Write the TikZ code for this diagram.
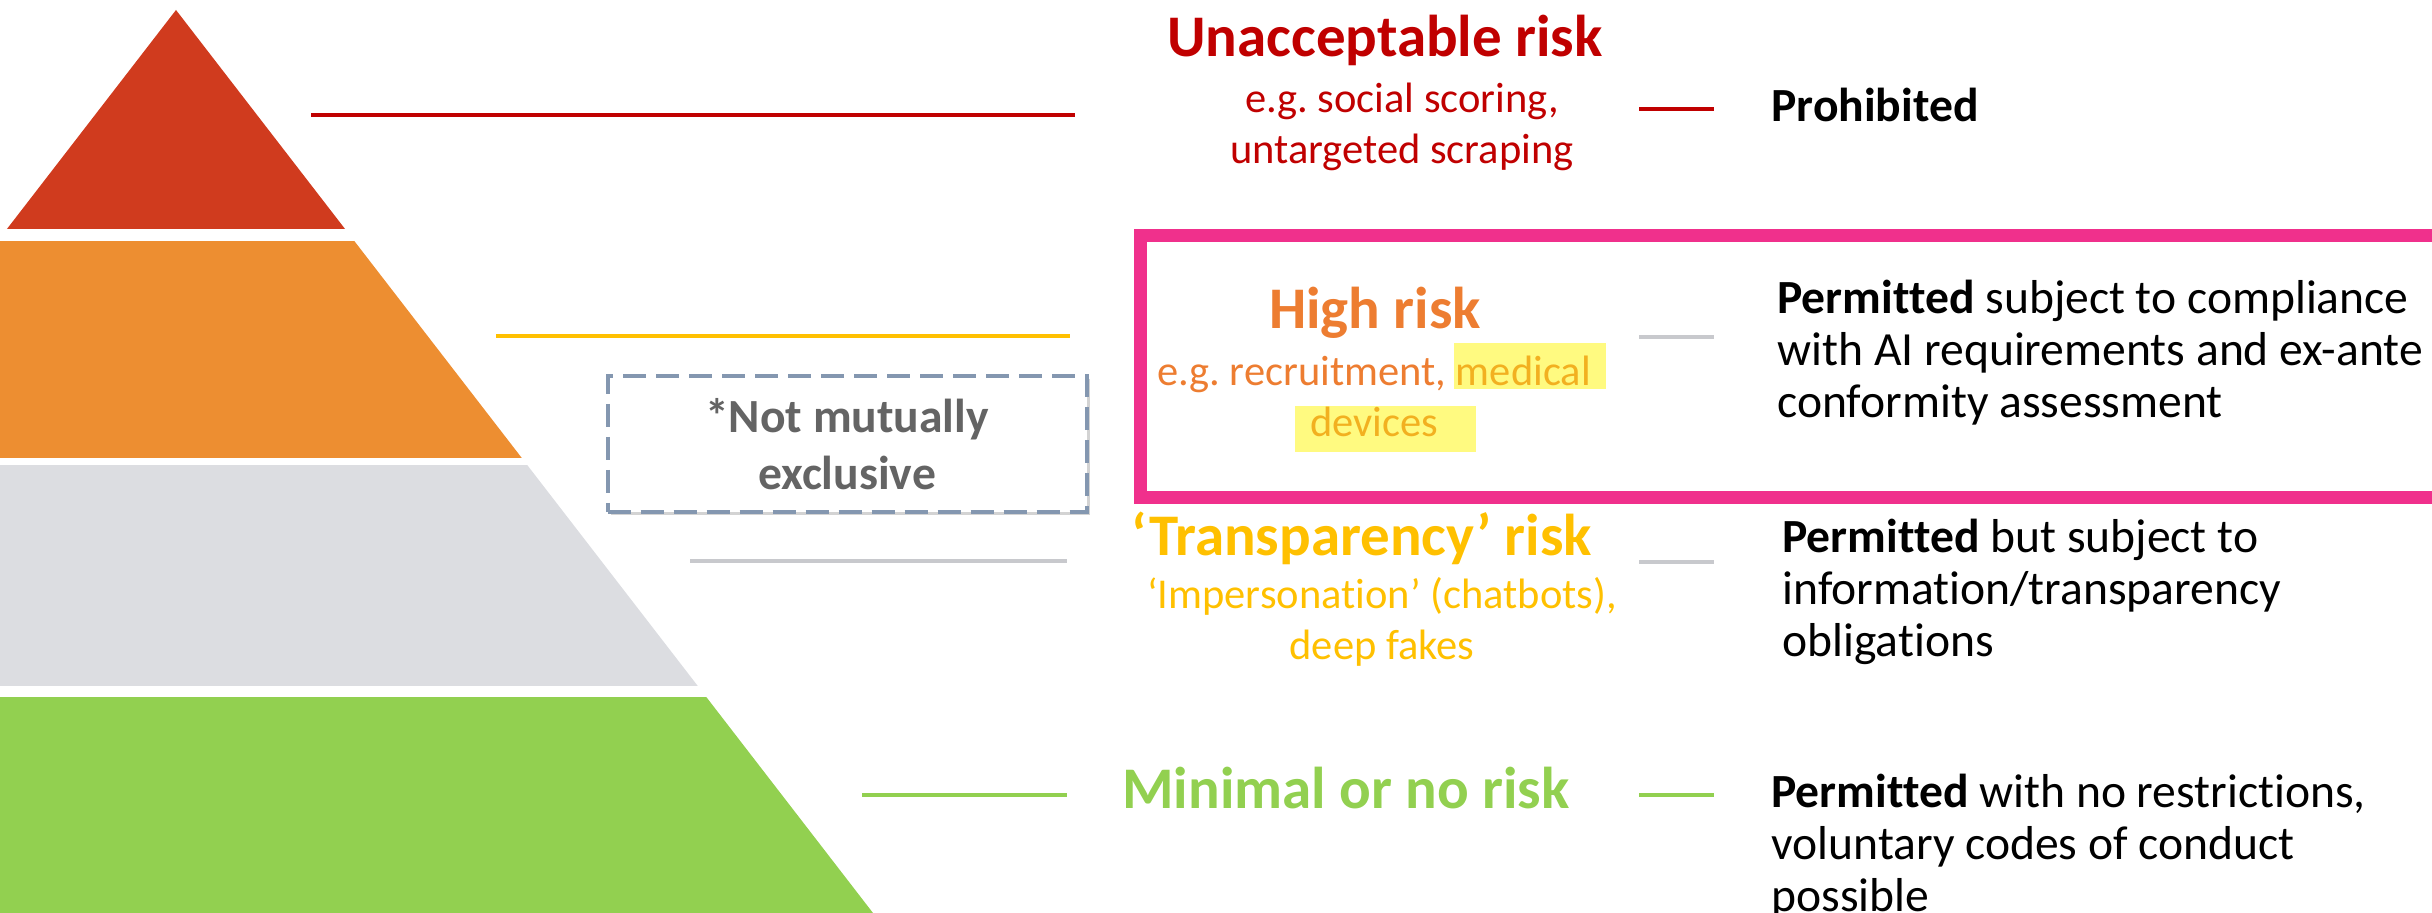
\documentclass[tikz,border=0pt]{standalone}
\usepackage{fontspec}
\setmainfont{Carlito}[Ligatures={TeX,NoCommon}]
\usepackage{tikz}
\usetikzlibrary{shadows}
\frenchspacing

\definecolor{pyrRed}{RGB}{208,59,30}
\definecolor{pyrOrange}{RGB}{237,142,49}
\definecolor{pyrGray}{RGB}{220,221,225}
\definecolor{pyrGreen}{RGB}{146,208,80}
\definecolor{riskRed}{RGB}{192,0,0}
\definecolor{riskOrange}{RGB}{237,125,49}
\definecolor{riskGold}{RGB}{255,192,0}
\definecolor{riskGreen}{RGB}{146,208,80}
\definecolor{leadGray}{RGB}{200,201,205}
\definecolor{markGold}{RGB}{242,176,32}
\definecolor{markYellow}{RGB}{255,250,128}
\definecolor{framePink}{RGB}{240,48,140}
\definecolor{noteBlue}{RGB}{132,151,176}
\definecolor{noteText}{RGB}{100,100,100}

\begin{document}
\begin{tikzpicture}[x=0.5pt,y=-0.5pt,
  tier/.style={inner sep=0pt,anchor=base,font=\bfseries\fontsize{29.5}{35}\selectfont},
  example/.style={inner sep=0pt,anchor=base,align=center,font=\fontsize{21.25}{25.5}\selectfont},
  rule/.style={inner sep=0pt,anchor=base west,align=left,font=\fontsize{23.8}{26}\selectfont},
  lead/.style={line width=1.6pt},
  tick/.style={line width=2pt}]
\useasboundingbox (0,0) rectangle (2432,913);
\clip (0,0) rectangle (2432,913);
%
\coordinate(apex) at (176,10);
\coordinate(footL) at (-521,913);
\coordinate(footR) at (873,913);
%
\begin{scope}
\clip (0,0) rectangle (2432,229);
\fill[pyrRed] (apex) -- (footL) -- (footR) -- cycle;
\end{scope}
\begin{scope}
\clip (0,242) rectangle (2432,458);
\fill[pyrOrange] (apex) -- (footL) -- (footR) -- cycle;
\end{scope}
\begin{scope}
\clip (0,466) rectangle (2432,686);
\fill[pyrGray] (apex) -- (footL) -- (footR) -- cycle;
\end{scope}
\begin{scope}
\clip (0,698) rectangle (2432,913);
\fill[pyrGreen] (apex) -- (footL) -- (footR) -- cycle;
\end{scope}
%
\draw[line width=6.5pt,framePink] (1140,235.5) rectangle (2470,498);
%
\node(note) at (847,444) [draw=noteBlue,line width=2pt,dash pattern=on 11.5pt off 5pt,
  fill=white,drop shadow={shadow xshift=1.5pt,shadow yshift=-1.5pt,opacity=0.35},
  minimum width=239.5pt,minimum height=68pt,inner sep=0pt,align=center,text=noteText,
  font=\bfseries\fontsize{23.8}{28.5}\selectfont] {*Not mutually\\exclusive};
%
\node[tier,text=riskRed](unacc) at (1385,57) {Unacceptable risk};
\node[example,text=riskRed](unaccEx) at (1402,164) {e.g. social scoring,\\untargeted scraping};
\node[rule,font=\bfseries\fontsize{23.8}{26}\selectfont](prohib) at (1771,122) {Prohibited};
\coordinate(unaccA) at (311,115);
\coordinate(unaccB) at (1075,115);
\coordinate(unaccC) at (1639,109);
\coordinate(unaccD) at (1714,109);
\draw[lead,riskRed](unaccA) -- (unaccB);
\draw[tick,riskRed](unaccC) -- (unaccD);
%
\fill[markYellow] (1454,343) rectangle (1606,389);
\fill[markYellow] (1295,406) rectangle (1476,452);
\node[tier,text=riskOrange](high) at (1375,329) {High risk};
\node[example,text=riskOrange](highEx) at (1374,437) {e.g. recruitment, \textcolor{markGold}{medical}\\\textcolor{markGold}{devices}};
\node[rule](highRule) at (1777,418) {\textbf{Permitted} subject to compliance\\with AI requirements and ex-ante\\conformity assessment};
\coordinate(highA) at (496,336);
\coordinate(highB) at (1070,336);
\coordinate(highC) at (1639,337);
\coordinate(highD) at (1714,337);
\draw[lead,riskGold](highA) -- (highB);
\draw[tick,leadGray](highC) -- (highD);
%
\node[tier,text=riskGold](transp) at (1362,556) {‘Transparency’ risk};
\node[example,text=riskGold](transpEx) at (1382,660) {‘Impersonation’ (chatbots),\\deep fakes};
\node[rule](transpRule) at (1782,657) {\textbf{Permitted} but subject to\\information/transparency\\obligations};
\coordinate(transpA) at (690,561);
\coordinate(transpB) at (1067,561);
\coordinate(transpC) at (1639,562);
\coordinate(transpD) at (1714,562);
\draw[lead,leadGray](transpA) -- (transpB);
\draw[tick,leadGray](transpC) -- (transpD);
%
\node[tier,text=riskGreen](minimal) at (1346,809) {Minimal or no risk};
\node[rule](minRule) at (1771,912) {\textbf{Permitted} with no restrictions,\\voluntary codes of conduct\\possible};
\coordinate(minA) at (862,795);
\coordinate(minB) at (1067,795);
\coordinate(minC) at (1639,795);
\coordinate(minD) at (1714,795);
\draw[lead,riskGreen](minA) -- (minB);
\draw[tick,riskGreen](minC) -- (minD);
\end{tikzpicture}
\end{document}
